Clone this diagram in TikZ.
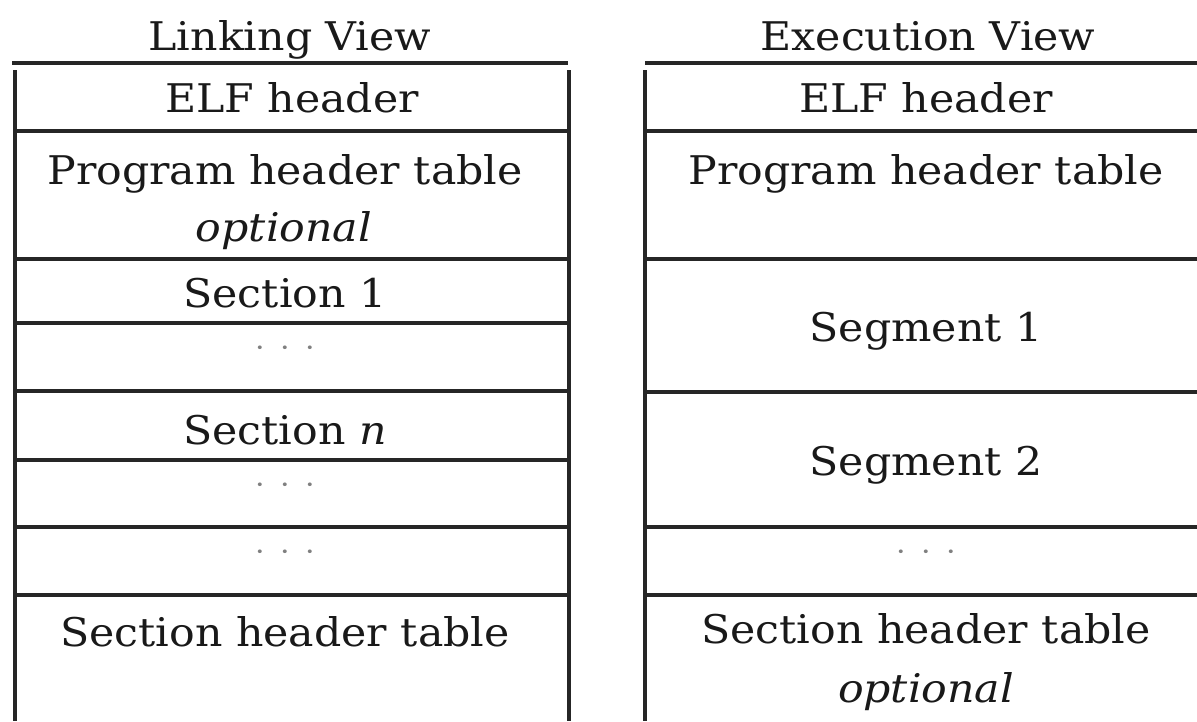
\documentclass[tikz,border=0pt]{standalone}
\usepackage{fontspec}
\setmainfont[FakeStretch=1.08]{DejaVu Serif}
\begin{document}
\begin{tikzpicture}[x=1pt,y=-1pt,
  rule/.style={line width=3.2pt, draw=black!85},
  cell/.style={anchor=base, inner sep=0pt, font=\fontsize{39.5}{46}\selectfont, text=black!90},
  dotcell/.style={anchor=center, inner sep=0pt, font=\fontsize{28}{30}\selectfont, text=black!50}]
\useasboundingbox (0,0) rectangle (1197,721);
% left table frame
\draw[rule] (12,63) -- (568,63);
\draw[rule] (15,70) -- (15,721);
\draw[rule] (569,70) -- (569,721);
\foreach \yy in {131,259,323,391,460,527,595}
  \draw[rule] (13,\yy) -- (569,\yy);
% right table frame
\draw[rule] (645,63) -- (1197,63);
\draw[rule] (645,70) -- (645,721);
\foreach \yy in {131,259,392,527,595}
  \draw[rule] (645,\yy) -- (1197,\yy);
% left texts
\node[cell] (ltitle) at (290,50) {Linking View};
\node[cell] (lelf) at (292,112) {ELF header};
\node[cell] (lpht) at (285,184) {Program header table};
\node[cell] (lopt) at (284,241) {\textit{optional}};
\node[cell] (lsec1) at (285,307) {Section 1};
\node[dotcell] (ldots1) at (285,352) {·\hspace{0.55em}·\hspace{0.55em}·};
\node[cell] (lsecn) at (285,444) {Section \textit{n}};
\node[dotcell] (ldots2) at (285,489) {·\hspace{0.55em}·\hspace{0.55em}·};
\node[dotcell] (ldots3) at (285,556) {·\hspace{0.55em}·\hspace{0.55em}·};
\node[cell] (lsht) at (285,646) {Section header table};
% right texts
\node[cell] (rtitle) at (928,50) {Execution View};
\node[cell] (relf) at (926,112) {ELF header};
\node[cell] (rpht) at (926,184) {Program header table};
\node[cell] (rseg1) at (926,341) {Segment 1};
\node[cell] (rseg2) at (926,475) {Segment 2};
\node[dotcell] (rdots) at (926,556) {·\hspace{0.55em}·\hspace{0.55em}·};
\node[cell] (rsht) at (926,643) {Section header table};
\node[cell] (ropt) at (926,702) {\textit{optional}};
\end{tikzpicture}
\end{document}
